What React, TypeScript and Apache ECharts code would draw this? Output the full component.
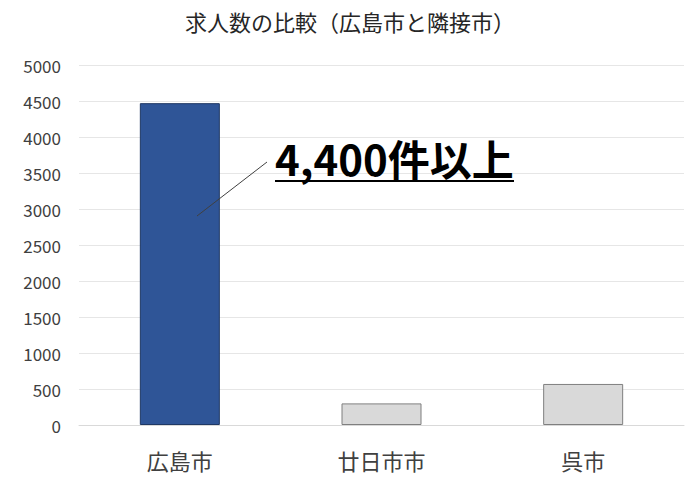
import React, { useEffect, useRef } from 'react'
import * as echarts from 'echarts'

const cities = ['広島市', '廿日市市', '呉市']
const jobCounts = [4470, 300, 570]
const barColors = ['#2F5597', '#D9D9D9', '#D9D9D9']
const barBorders = ['#1F3864', '#7F7F7F', '#7F7F7F']
const titleText = '求人数の比較（広島市と隣接市）'
const calloutText = '4,400件以上'

const FONT = '"Noto Sans CJK JP", "Noto Sans", sans-serif'

const App: React.FC = () => {
  const chartRef = useRef<HTMLDivElement>(null)

  useEffect(() => {
    if (!chartRef.current) return
    const chart = echarts.init(chartRef.current, null, { renderer: 'svg' })
    chart.setOption({
      animation: false,
      backgroundColor: '#fff',
      textStyle: { fontFamily: FONT },
      title: {
        text: titleText,
        left: 'center',
        top: 5,
        textStyle: { fontSize: 22, fontWeight: 'normal', color: '#262626', fontFamily: FONT },
      },
      grid: { left: 79, right: 16, top: 65, bottom: 64 },
      xAxis: {
        type: 'category',
        data: cities,
        axisLine: { show: true, lineStyle: { color: '#D9D9D9' } },
        axisTick: { show: false },
        axisLabel: { fontSize: 22, color: '#404040', margin: 24, fontFamily: FONT },
      },
      yAxis: {
        type: 'value',
        min: 0,
        max: 5000,
        interval: 500,
        axisLine: { show: false },
        axisTick: { show: false },
        axisLabel: {
          fontSize: 17,
          color: '#404040',
          margin: 18,
          fontFamily: FONT,
          formatter: (v: number) => String(v),
        },
        splitLine: { lineStyle: { color: '#E6E6E6' } },
      },
      series: [
        {
          type: 'bar',
          barWidth: 80,
          data: jobCounts.map((v, i) => ({
            value: v,
            itemStyle: { color: barColors[i], borderColor: barBorders[i], borderWidth: 1 },
          })),
        },
      ],
      graphic: [
        {
          type: 'text',
          left: 275,
          top: 136,
          z: 100,
          style: {
            text: calloutText,
            fontSize: 42,
            fontWeight: 'bold',
            fill: '#000',
            fontFamily: FONT,
          },
        },
        {
          type: 'line',
          z: 100,
          shape: { x1: 275, y1: 181, x2: 514, y2: 181 },
          style: { stroke: '#000', lineWidth: 2 },
        },
        {
          type: 'line',
          z: 100,
          shape: { x1: 197, y1: 216, x2: 267, y2: 162 },
          style: { stroke: '#404040', lineWidth: 1 },
        },
      ],
    })
    return () => {
      chart.dispose()
    }
  }, [])

  return <div ref={chartRef} style={{ width: 700, height: 489, margin: -8 }} />
}

export default App
